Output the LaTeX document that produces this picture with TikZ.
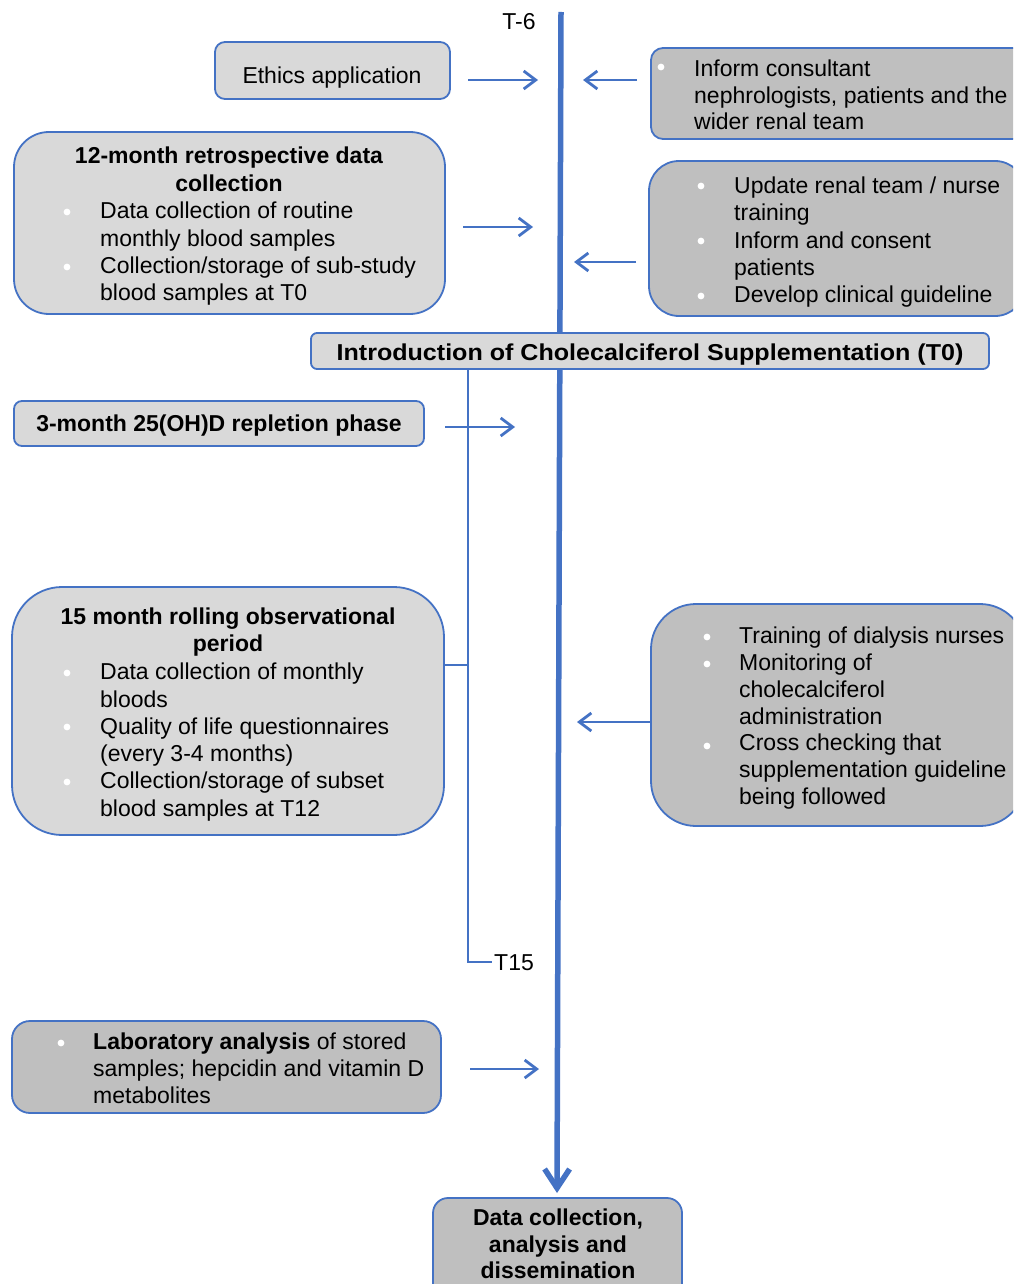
\documentclass[tikz,border=0pt]{standalone}
\usepackage{fontspec}
\setmainfont{Liberation Sans}
\usepackage{graphicx}
\usetikzlibrary{arrows.meta}
\definecolor{lineblue}{HTML}{4472C4}
\definecolor{lightfill}{HTML}{D9D9D9}
\definecolor{darkfill}{HTML}{BFBFBF}
\newcommand\bl[1]{\makebox[#1pt][l]{}}
\newcommand\fs[1]{\fontsize{23}{#1}\selectfont}
\begin{document}
\begin{tikzpicture}[x=1pt,y=-1pt,
  box/.style={draw=lineblue, line width=1.8pt, inner sep=0pt},
  light/.style={box, fill=lightfill},
  dark/.style={box, fill=darkfill},
  txt/.style={inner sep=0pt, align=left},
  bulletdot/.style={fill=white},
  conn/.style={draw=lineblue, line width=2.8pt, -{Straight Barb[length=12pt,width=18pt]}},
  mainline/.style={draw=lineblue, line width=5.5pt, -{Straight Barb[length=19pt,width=25pt]}},
  bracket/.style={draw=lineblue, line width=2.8pt}
]
\useasboundingbox (0,0) rectangle (1013,1284);
\clip (0,0) rectangle (1013,1284);

% main time line
\coordinate (top) at (561,12);
\coordinate (tip) at (557,1193);
\draw[mainline] (top) -- (tip);
\node[txt, anchor=base, font=\fs{27}] (tm6) at (519,29.5) {T-6};

% boxes
\node[light, rounded corners=10pt, minimum width=235pt, minimum height=57pt] (ethics) at (332.5,70.5) {};
\node[txt, anchor=base, font=\fs{27}] (ethicsT) at (332,83.5) {Ethics application};

\node[dark, rounded corners=12pt, minimum width=374pt, minimum height=91pt] (inform) at (838,93.5) {};
\node[txt, anchor=north west, font=\fs{26.5}] (informT) at (657,57.95) {\begin{tabular}{@{}l@{}l@{}}\bl{37}&Inform consultant\\ &nephrologists, patients and the\\ &wider renal team\end{tabular}};

\node[light, rounded corners=35pt, minimum width=431pt, minimum height=182pt] (retro) at (229.5,223) {};
\node[txt, anchor=north, font=\fs{27.4}\bfseries] (retroH) at (229,144.3) {\begin{tabular}{@{}c@{}}12-month retrospective data\\collection\end{tabular}};
\node[txt, anchor=north west, font=\fs{27.4}] (retroT) at (63,199.3) {\begin{tabular}{@{}l@{}l@{}}\bl{37}&Data collection of routine\\ &monthly blood samples\\ \bl{37}&Collection/storage of sub-study\\ &blood samples at T0\end{tabular}};

\node[dark, rounded corners=30pt, minimum width=376pt, minimum height=155pt] (update) at (837,238.5) {};
\node[txt, anchor=north west, font=\fs{27.25}] (updateT) at (697,174.4) {\begin{tabular}{@{}l@{}l@{}}\bl{37}&Update renal team / nurse\\ &training\\ \bl{37}&Inform and consent\\ &patients\\ \bl{37}&Develop clinical guideline\end{tabular}};

\node[light, rounded corners=6pt, minimum width=678pt, minimum height=36pt] (t0box) at (650,351) {};
\node[txt, anchor=base, font=\fs{27}\bfseries] (t0T) at (650,360) {\scalebox{1.09}[1]{Introduction of Cholecalciferol Supplementation (T0)}};

\node[light, rounded corners=8pt, minimum width=410pt, minimum height=45pt] (rep) at (219,423.5) {};
\node[txt, anchor=base, font=\fs{27}\bfseries] (repT) at (219,431.5) {3-month 25(OH)D repletion phase};

\node[light, rounded corners=50pt, minimum width=432pt, minimum height=248pt] (obs) at (228,711) {};
\node[txt, anchor=north, font=\fs{26.5}\bfseries] (obsH) at (228,605.95) {\begin{tabular}{@{}c@{}}15 month rolling observational\\period\end{tabular}};
\node[txt, anchor=north west, font=\fs{27.3}] (obsT) at (63,660.4) {\begin{tabular}{@{}l@{}l@{}}\bl{37}&Data collection of monthly\\ &bloods\\ \bl{37}&Quality of life questionnaires\\ &(every 3-4 months)\\ \bl{37}&Collection/storage of subset\\ &blood samples at T12\end{tabular}};

\node[dark, rounded corners=45pt, minimum width=374pt, minimum height=222pt] (train) at (838,715) {};
\node[txt, anchor=north west, font=\fs{26.8}] (trainT) at (703,624.7) {\begin{tabular}{@{}l@{}l@{}}\bl{36}&Training of dialysis nurses\\ \bl{36}&Monitoring of\\ &cholecalciferol\\ &administration\\ \bl{36}&Cross checking that\\ &supplementation guideline\\ &being followed\end{tabular}};

\node[dark, rounded corners=18pt, minimum width=429pt, minimum height=92pt] (lab) at (226.5,1067) {};
\node[txt, anchor=north west, font=\fs{27}] (labT) at (57,1030.6) {\begin{tabular}{@{}l@{}l@{}}\bl{36}&\textbf{Laboratory analysis} of stored\\ &samples; hepcidin and vitamin D\\ &metabolites\end{tabular}};

\node[dark, rounded corners=15pt, minimum width=249pt, minimum height=102pt] (diss) at (557.5,1249) {};
\node[txt, anchor=north, font=\fs{26.5}\bfseries] (dissT) at (558,1206.95) {\begin{tabular}{@{}c@{}}Data collection,\\analysis and\\dissemination\end{tabular}};

% bullet dots
\foreach \bx/\by in {661/67, 67/212, 67/267, 701/186, 701/241, 701/296,
                     67/673, 67/727, 67/782, 707/637, 707/664, 707/746, 61/1043}
  \fill[bulletdot] (\bx,\by) circle (3.4pt);

% bracket
\coordinate (b1) at (468,962);
\coordinate (b2) at (468,665);
\coordinate (b3) at (492,962);
\draw[bracket] (t0box.south -| b1) -- (b1) -- (b3);
\draw[bracket] (obs.east |- b2) -- (b2);
\node[txt, anchor=base west, font=\fs{27}] (t15) at (494,970.5) {T15};

% arrows
\coordinate (a1s) at (468,80);  \coordinate (a1e) at (538,80);
\coordinate (a2s) at (637,80);  \coordinate (a2e) at (583,80);
\coordinate (a3s) at (463,227); \coordinate (a3e) at (533,227);
\coordinate (a4s) at (636,262); \coordinate (a4e) at (574,262);
\coordinate (a5s) at (445,427); \coordinate (a5e) at (515,427);
\coordinate (a6s) at (650,722); \coordinate (a6e) at (577,722);
\coordinate (a7s) at (470,1069); \coordinate (a7e) at (539,1069);
\draw[conn] (a1s) -- (a1e);
\draw[conn] (a2s) -- (a2e);
\draw[conn] (a3s) -- (a3e);
\draw[conn] (a4s) -- (a4e);
\draw[conn] (a5s) -- (a5e);
\draw[conn] (a6s) -- (a6e);
\draw[conn] (a7s) -- (a7e);
\end{tikzpicture}
\end{document}
